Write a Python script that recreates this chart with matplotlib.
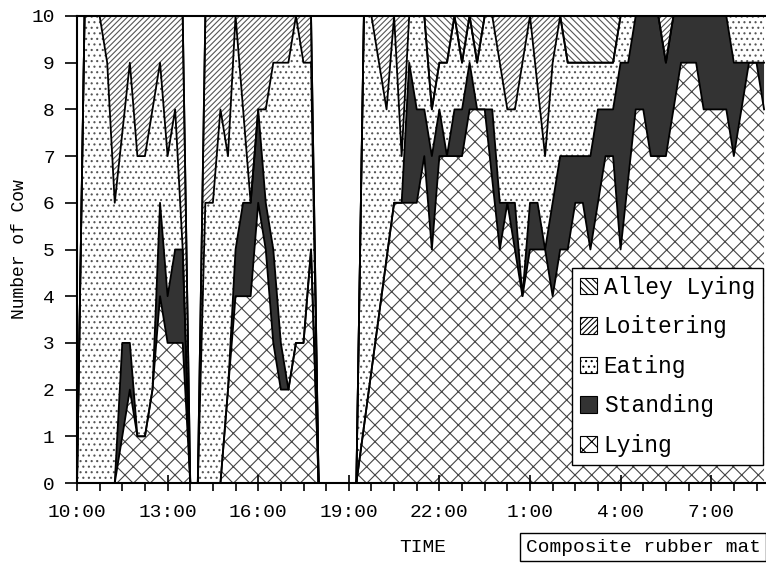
import numpy as np
import matplotlib
matplotlib.use("Agg")
import matplotlib.pyplot as plt
from matplotlib.patches import Patch

plt.rcParams['font.family'] = ['Liberation Mono', 'DejaVu Sans Mono']
plt.rcParams['hatch.linewidth'] = 0.8

#
# Data: number of cows per behaviour, every 15 min from 10:00
#
lying = [0, 0, 0, 0, 0, 0, 1, 2, 1, 1, 2, 4, 3, 3, 3, 0,
         0, 0, 0, 0, 2, 4, 4, 4, 6, 5, 3, 2, 2, 3, 3, 5,
         0, 0, 0, 0, 0, 0, 1.2, 2.4, 3.6, 4.8, 6, 6, 6, 6, 7, 5,
         7, 7, 7, 7, 8, 8, 8, 6.5, 5, 6, 5, 4, 5, 5, 5, 4,
         5, 5, 6, 6, 5, 6, 7, 7, 5, 6.5, 8, 8, 7, 7, 7, 8,
         9, 9, 9, 8, 8, 8, 8, 7, 8, 9, 9, 8]
standing = [0, 0, 0, 0, 0, 0, 2, 1, 0, 0, 0, 2, 1, 2, 2, 0,
            0, 0, 0, 0, 0, 1, 2, 2, 2, 1, 2, 1, 0, 0, 0, 0,
            0, 0, 0, 0, 0, 0, 0, 0, 0, 0, 0, 0, 3, 2, 1, 2,
            1, 0, 1, 1, 1, 0, 0, 1.5, 1, 0, 1, 0, 1, 1, 0, 2,
            2, 2, 1, 1, 2, 2, 1, 1, 4, 2.5, 2, 2, 3, 3, 2, 2,
            1, 1, 1, 2, 2, 2, 2, 2, 1, 0, 0, 1]
eating = [0, 10, 10, 10, 9, 6, 4.5, 6, 6, 6, 6, 3, 3, 3, 0, 0,
          0, 6, 6, 8, 5, 5, 2, 0, 0, 2, 4, 6, 7, 7, 6, 4,
          0, 0, 0, 0, 0, 0, 8.8, 7.6, 5.4, 3.2, 4, 1, 1, 2, 2, 1,
          1, 2, 2, 1, 1, 1, 2, 2, 3, 2, 2, 5, 4, 2.5, 2, 3,
          3, 2, 2, 2, 2, 1, 1, 1, 1, 1, 0, 0, 0, 0, 0, 0,
          0, 0, 0, 0, 0, 0, 0, 1, 1, 1, 1, 1]
loitering = [0, 0, 0, 0, 1, 4, 2.5, 1, 3, 3, 2, 1, 3, 2, 5, 0,
             0, 4, 4, 2, 3, 0, 2, 4, 2, 2, 1, 1, 1, 0, 1, 1,
             0, 0, 0, 0, 0, 0, 0, 0, 1, 2, 0, 3, 0, 0, 0, 0,
             0, 0, 0, 0, 0, 0, 0, 0, 1, 2, 2, 1, 0, 1.5, 3, 1,
             0, 0, 0, 0, 0, 0, 0, 0, 0, 0, 0, 0, 0, 0, 1, 0,
             0, 0, 0, 0, 0, 0, 0, 0, 0, 0, 0, 0]
alley = [0, 0, 0, 0, 0, 0, 0, 0, 0, 0, 0, 0, 0, 0, 0, 0,
         0, 0, 0, 0, 0, 0, 0, 0, 0, 0, 0, 0, 0, 0, 0, 0,
         0, 0, 0, 0, 0, 0, 0, 0, 0, 0, 0, 0, 0, 0, 0, 2,
         1, 1, 0, 1, 0, 1, 0, 0, 0, 0, 0, 0, 0, 0, 0, 0,
         0, 1, 1, 1, 1, 1, 1, 1, 0, 0, 0, 0, 0, 0, 0, 0,
         0, 0, 0, 0, 0, 0, 0, 0, 0, 0, 0, 0]

hours = np.arange(len(lying)) * 0.25          # hours after 10:00
tick_labels = ['10:00', '13:00', '16:00', '19:00', '22:00', '1:00', '4:00', '7:00']

layers = [
    ('Lying', lying, dict(facecolor='white', hatch='xx', edgecolor='#444444')),
    ('Standing', standing, dict(facecolor='#333333')),
    ('Eating', eating, dict(facecolor='white', hatch='...', edgecolor='#555555')),
    ('Loitering', loitering, dict(facecolor='white', hatch='//////', edgecolor='#555555')),
    ('Alley Lying', alley, dict(facecolor='white', hatch='\\\\\\\\\\', edgecolor='#555555')),
]

#
# Plot
#
fig = plt.figure(figsize=(7.66, 5.65), dpi=100)
ax = fig.add_axes([77 / 766, 1 - 483 / 565, 1 - 77 / 766, (483 - 16) / 565])

base = np.zeros(len(hours))
handles = {}
for name, values, style in layers:
    top = base + np.array(values, dtype=float)
    ax.fill_between(hours, base, top, linewidth=0, **style)
    ax.plot(hours, top, color='black', lw=1.3)
    handles[name] = Patch(linewidth=0.8, label=name,
                          **{k: v for k, v in style.items() if k != 'edgecolor'},
                          edgecolor='black')
    base = top

ax.set_xlim(0, (766 - 77) / 30.2)
ax.set_ylim(0, 10)
ax.set_xticks(np.arange(0, 22, 3))
ax.set_xticklabels(tick_labels, fontsize=14)
ax.set_xticks(np.arange(0, 23, 0.75), minor=True)
ax.tick_params(axis='x', which='major', direction='inout', length=12, width=1.2, pad=9)
ax.tick_params(axis='x', which='minor', direction='out', length=6, width=1.2)
ax.set_yticks(range(0, 11))
ax.tick_params(axis='y', direction='out', length=9, width=1.2, labelsize=14, pad=7)
ax.spines['right'].set_visible(False)
for s in ['left', 'bottom', 'top']:
    ax.spines[s].set_linewidth(1.5)

ax.set_ylabel('Number of Cow', fontsize=13, labelpad=2)
fig.text(423 / 766, 1 - 547 / 565, 'TIME', fontsize=14, ha='center', va='center')
fig.text(643 / 766, 1 - 547 / 565, 'Composite rubber mat', fontsize=14,
         ha='center', va='center',
         bbox=dict(boxstyle='square,pad=0.3', facecolor='white', edgecolor='black', lw=1))

order = ['Alley Lying', 'Loitering', 'Eating', 'Standing', 'Lying']
leg = ax.legend([handles[n] for n in order], order, loc='lower right',
                bbox_to_anchor=(0.9956, 0.0385), borderaxespad=0, fontsize=16.5,
                fancybox=False, framealpha=1, edgecolor='black',
                handlelength=0.75, handleheight=0.75, handletextpad=0.3,
                labelspacing=0.72, borderpad=0.35)
leg.get_frame().set_linewidth(1.0)

fig.savefig('out.png', dpi=100)
